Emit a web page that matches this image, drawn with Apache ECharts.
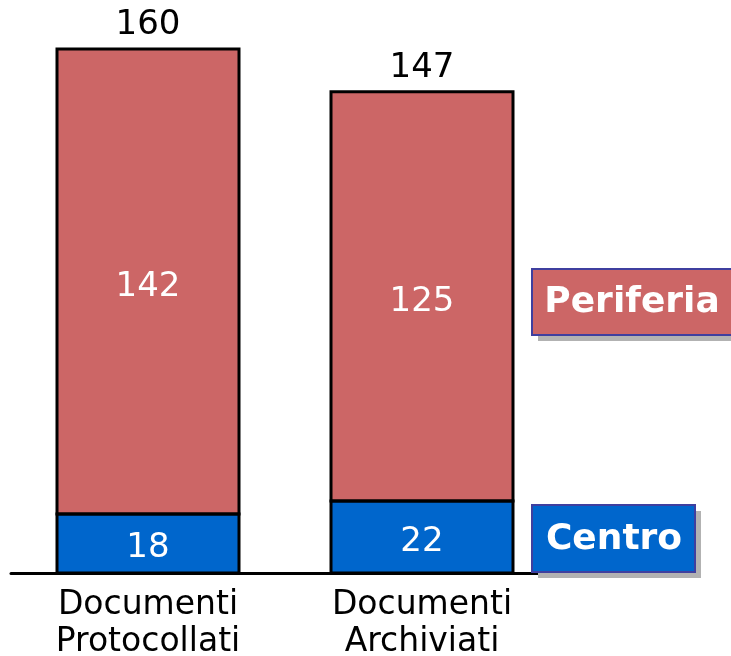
<!DOCTYPE html>
<html>
<head>
<meta charset="utf-8">
<script src="https://cdn.jsdelivr.net/npm/echarts@6/dist/echarts.min.js"></script>
<style>
  html, body { margin: 0; padding: 0; background: #fff; }
  #main { width: 731px; height: 656px; }
</style>
</head>
<body>
<div id="main"></div>
<script>
var categories = ['Documenti\nProtocollati', 'Documenti\nArchiviati'];
var centro = [18, 22];
var periferia = [142, 125];
var totals = centro.map(function (v, i) { return v + periferia[i]; });

var font = '"DejaVu Sans", Verdana, sans-serif';
var barW = 182;
var myChart = echarts.init(document.getElementById('main'));

// outline of each stacked segment: [category, from, to]
var outlines = [];
centro.forEach(function (v, i) {
    outlines.push([i, 0, v]);
    outlines.push([i, v, v + periferia[i]]);
});

// legend boxes drawn by hand, the chart's legend has a framed look
function legendBox(x, y, w, h, textX, fill, text) {
    return {
        type: 'group',
        left: x,
        top: y,
        z: 100,
        children: [
            { type: 'rect', z: 100, shape: { x: 6, y: 6, width: w, height: h }, style: { fill: '#b2b2b2' } },
            { type: 'rect', z: 101, shape: { x: 0, y: 0, width: w, height: h }, style: { fill: fill, stroke: '#3f3f9f', lineWidth: 2 } },
            { type: 'text', z: 102, x: textX, y: h / 2 + 1, style: { text: text, fill: '#fff', font: 'bold 36px ' + font, align: 'center', verticalAlign: 'middle' } }
        ]
    };
}

var option = {
    animation: false,
    grid: { left: 11, right: 172, top: 0, bottom: 83, outerBoundsMode: 'none', containLabel: false },
    xAxis: {
        type: 'category',
        data: categories,
        axisLine: { lineStyle: { color: '#000', width: 3 } },
        axisTick: { show: false },
        axisLabel: { color: '#000', fontSize: 33, fontFamily: font, lineHeight: 37, margin: 14 }
    },
    yAxis: {
        type: 'value',
        min: 0,
        max: 175,
        show: false
    },
    series: [
        {
            name: 'Centro',
            type: 'bar',
            stack: 'tot',
            barWidth: barW,
            data: centro,
            itemStyle: { color: '#0066cc' },
            label: { show: true, position: 'inside', color: '#fff', fontSize: 34, fontFamily: font, offset: [0, 5] }
        },
        {
            name: 'Periferia',
            type: 'bar',
            stack: 'tot',
            data: periferia,
            itemStyle: { color: '#cc6666' },
            label: { show: true, position: 'inside', color: '#fff', fontSize: 34, fontFamily: font, offset: [0, 6] }
        },
        {
            name: 'Totale',
            type: 'bar',
            stack: 'tot',
            data: totals.map(function () { return 0; }),
            itemStyle: { color: 'transparent' },
            label: {
                show: true,
                position: 'top',
                distance: 7,
                color: '#000',
                fontSize: 34,
                fontFamily: font,
                formatter: function (p) { return totals[p.dataIndex]; }
            }
        },
        {
            name: 'bordi',
            type: 'custom',
            data: outlines,
            z: 5,
            silent: true,
            renderItem: function (params, api) {
                var p0 = api.coord([api.value(0), api.value(1)]);
                var p1 = api.coord([api.value(0), api.value(2)]);
                return {
                    type: 'rect',
                    shape: { x: p0[0] - barW / 2, y: p1[1], width: barW, height: p0[1] - p1[1] },
                    style: { fill: 'none', stroke: '#000', lineWidth: 3 }
                };
            }
        }
    ],
    graphic: [
        legendBox(531, 268, 210, 66, 100, '#cc6666', 'Periferia'),
        legendBox(531, 504, 163, 67, 82, '#0066cc', 'Centro')
    ]
};

myChart.setOption(option);
</script>
</body>
</html>
